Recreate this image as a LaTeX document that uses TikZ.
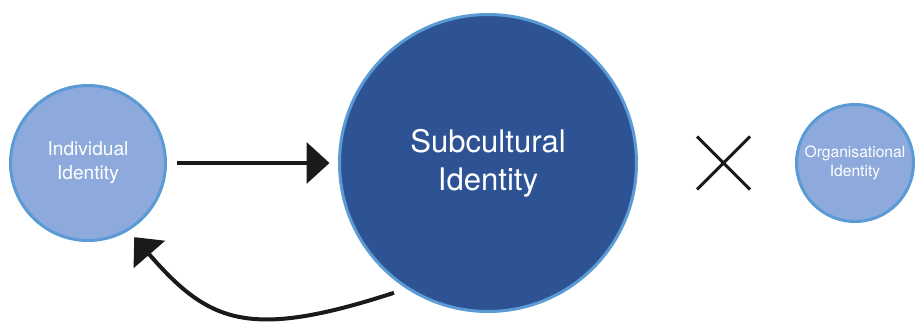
\documentclass[tikz,border=0pt]{standalone}
\usepackage{fontspec}
\setmainfont{TeX Gyre Heros}
\usepackage{tikz}
\usetikzlibrary{positioning,arrows.meta,shapes.misc}
\usepackage{xcolor}
\definecolor{PaleBlue}{HTML}{8EA9DB}
\definecolor{RimBlue}{HTML}{5B9BD5}
\definecolor{DeepBlue}{HTML}{2E5395}
\definecolor{InkBlack}{HTML}{1A1A1A}

\begin{document}
\begin{tikzpicture}[every node/.style={align=center,text=white},
  idcircle/.style={circle,draw=RimBlue,line width=0.06cm,inner sep=0pt},
  link/.style={-{Triangle[length=0.46cm,width=0.82cm]},line width=0.08cm,InkBlack}]
\useasboundingbox (0,0) rectangle (18.32,6.46);
\node[idcircle,fill=PaleBlue,minimum size=3.10cm,font=\fontsize{10.9}{13.6}\selectfont] (ind) at (1.76,3.20) {Individual\\Identity};
\node[idcircle,fill=DeepBlue,minimum size=5.94cm,font=\fontsize{17.7}{21.6}\selectfont,right=3.42cm of ind] (sub) {Subcultural\\Identity};
\node[cross out,draw=InkBlack,line width=0.06cm,minimum size=1.06cm,inner sep=0pt,outer sep=0pt,right=1.18cm of sub] (cross) {};
\node[idcircle,fill=PaleBlue,minimum size=2.34cm,font=\fontsize{8.9}{10.6}\selectfont,right=0.9cm of cross] (org) {Organisational\\Identity};
\draw[link,shorten <=0.2cm,shorten >=0.17cm] (ind) -- (sub);
\draw[link,shorten <=0.26cm,shorten >=0.17cm] (sub.237) to[out=198,in=-49,out looseness=1.5,in looseness=1.1] (ind.-59);
\end{tikzpicture}
\end{document}
